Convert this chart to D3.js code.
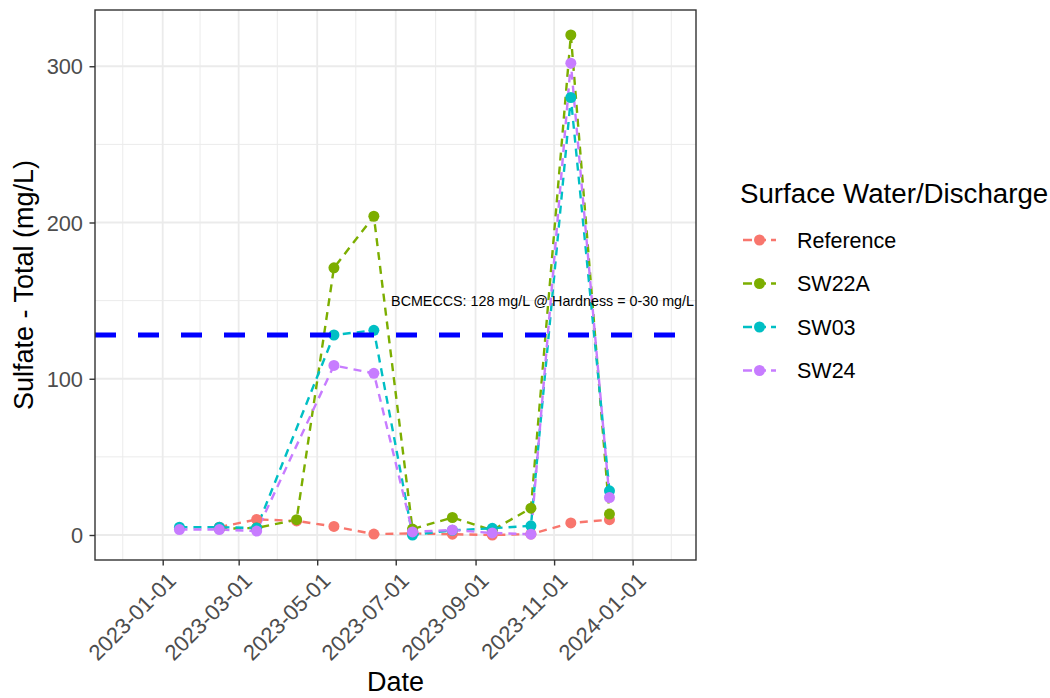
<!DOCTYPE html>
<html>
<head>
<meta charset="utf-8">
<script src="https://cdn.jsdelivr.net/npm/d3@7"></script>
<style>
  html, body { margin: 0; padding: 0; background: #ffffff; }
  svg { display: block; font-family: "Liberation Sans", Arial, sans-serif; }
</style>
</head>
<body>
<svg id="chart" width="1050" height="698"></svg>
<script>
// Sampling dates (one visit per month)
const sampleDates = ["2023-01-14", "2023-02-14", "2023-03-15", "2023-04-15", "2023-05-14", "2023-06-14",
                     "2023-07-14", "2023-08-14", "2023-09-14", "2023-10-14", "2023-11-14", "2023-12-14"];

// Sulfate - Total (mg/L) by station; null = not sampled
const referenceValues = [null, 5, 10, 9, 5.5, 0.6, 1, 0.5, 0, 0.6, 7.7, 9.8];
const sw22aValues     = [null, 4, 4.5, 9.8, 171, 204, 3.8, 11.2, 3, 17.2, 320, 13.4];
const sw03Values      = [5, 5, 4.5, null, 128, 131, 0, 3, 4.3, 5.9, 280, 28.3];
const sw24Values      = [3.5, 3.5, 2.5, null, 108.5, 103.5, 2, 3.2, 1.3, 0.5, 302, 24];

const seriesNames  = ["Reference", "SW22A", "SW03", "SW24"];
const seriesValues = [referenceValues, sw22aValues, sw03Values, sw24Values];
const seriesColors = ["#F8766D", "#7CAE00", "#00BFC4", "#C77CFF"];

// Guideline
const guidelineValue = 128;
const guidelineLabel = "BCMECCS: 128 mg/L @ Hardness = 0-30 mg/L";
const guidelineLabelDate = "2023-10-23";
const guidelineLabelValue = 150;

// Axis ticks
const xTickDates  = ["2023-01-01", "2023-03-01", "2023-05-01", "2023-07-01", "2023-09-01", "2023-11-01", "2024-01-01"];
const xMinorDates = ["2022-12-01", "2023-01-30", "2023-03-31", "2023-05-31", "2023-08-01", "2023-10-01", "2023-12-01", "2024-01-31"];
const yTicks      = [0, 100, 200, 300];
const yMinorTicks = [50, 150, 250];
const xDomain = ["2022-11-09T10:00", "2024-02-19T05:00"];
const yDomain = [-16, 336];

const legendTitle = "Surface Water/Discharge";
const xTitle = "Date";
const yTitle = "Sulfate - Total (mg/L)";

const parse = d3.isoParse;
const svg = d3.select("#chart");
const panel = { left: 95, top: 10, right: 696, bottom: 560 };

const x = d3.scaleTime().domain(xDomain.map(parse)).range([panel.left, panel.right]);
const y = d3.scaleLinear().domain(yDomain).range([panel.bottom, panel.top]);

// Panel background and grid
svg.append("rect")
  .attr("x", panel.left).attr("y", panel.top)
  .attr("width", panel.right - panel.left).attr("height", panel.bottom - panel.top)
  .attr("fill", "#ffffff");

const grid = svg.append("g");
grid.selectAll(".xminor").data(xMinorDates).join("line")
  .attr("x1", d => x(parse(d))).attr("x2", d => x(parse(d)))
  .attr("y1", panel.top).attr("y2", panel.bottom)
  .attr("stroke", "#ebebeb").attr("stroke-width", 1);
grid.selectAll(".yminor").data(yMinorTicks).join("line")
  .attr("x1", panel.left).attr("x2", panel.right)
  .attr("y1", d => y(d)).attr("y2", d => y(d))
  .attr("stroke", "#ebebeb").attr("stroke-width", 1);
grid.selectAll(".xmajor").data(xTickDates).join("line")
  .attr("x1", d => x(parse(d))).attr("x2", d => x(parse(d)))
  .attr("y1", panel.top).attr("y2", panel.bottom)
  .attr("stroke", "#ebebeb").attr("stroke-width", 1.8);
grid.selectAll(".ymajor").data(yTicks).join("line")
  .attr("x1", panel.left).attr("x2", panel.right)
  .attr("y1", d => y(d)).attr("y2", d => y(d))
  .attr("stroke", "#ebebeb").attr("stroke-width", 1.8);

// Series data
const series = seriesNames.map((name, i) => ({
  name,
  color: seriesColors[i],
  points: sampleDates.map((d, j) => ({ date: parse(d), value: seriesValues[i][j] }))
                     .filter(p => p.value != null)
}));

const line = d3.line().x(d => x(d.date)).y(d => y(d.value));

const plot = svg.append("g");
plot.selectAll(".series-line").data(series).join("path")
  .attr("d", d => line(d.points))
  .attr("fill", "none")
  .attr("stroke", d => d.color)
  .attr("stroke-width", 2.4)
  .attr("stroke-dasharray", "8 6");

// Guideline
svg.append("line")
  .attr("x1", panel.left).attr("x2", panel.right)
  .attr("y1", y(guidelineValue)).attr("y2", y(guidelineValue))
  .attr("stroke", "#0000FF").attr("stroke-width", 5)
  .attr("stroke-dasharray", "21 22");

// Points
series.forEach(s => {
  plot.append("g").selectAll("circle").data(s.points).join("circle")
    .attr("cx", d => x(d.date)).attr("cy", d => y(d.value))
    .attr("r", 5.5).attr("fill", s.color);
});

svg.append("text")
  .attr("x", x(parse(guidelineLabelDate))).attr("y", y(guidelineLabelValue))
  .attr("dy", "0.35em").attr("text-anchor", "middle")
  .attr("font-size", 14.3).attr("fill", "#000000")
  .text(guidelineLabel);

// Panel border
svg.append("rect")
  .attr("x", panel.left).attr("y", panel.top)
  .attr("width", panel.right - panel.left).attr("height", panel.bottom - panel.top)
  .attr("fill", "none").attr("stroke", "#333333").attr("stroke-width", 1.4);

// Axes
const xAxis = svg.append("g").attr("transform", `translate(0,${panel.bottom})`)
  .call(d3.axisBottom(x).tickValues(xTickDates.map(parse))
        .tickFormat(d3.timeFormat("%Y-%m-%d")).tickSizeInner(5.5).tickSizeOuter(0));
xAxis.select(".domain").remove();
xAxis.selectAll(".tick line").attr("stroke", "#333333").attr("stroke-width", 1.4);
xAxis.selectAll(".tick text")
  .attr("font-size", 22).attr("fill", "#4d4d4d")
  .attr("text-anchor", "end")
  .attr("x", 0).attr("y", 0).attr("dy", "0.72em")
  .attr("transform", "translate(3,11) rotate(-45)");

const yAxis = svg.append("g").attr("transform", `translate(${panel.left},0)`)
  .call(d3.axisLeft(y).tickValues(yTicks).tickSizeInner(5.5).tickSizeOuter(0));
yAxis.select(".domain").remove();
yAxis.selectAll(".tick line").attr("stroke", "#333333").attr("stroke-width", 1.4);
yAxis.selectAll(".tick text")
  .attr("font-size", 21.8).attr("fill", "#4d4d4d")
  .attr("x", -12).attr("dy", "0.35em");

// Axis titles
svg.append("text")
  .attr("x", (panel.left + panel.right) / 2).attr("y", 691)
  .attr("text-anchor", "middle").attr("font-size", 27).attr("fill", "#000000")
  .text(xTitle);
svg.append("text")
  .attr("transform", `translate(33,${(panel.top + panel.bottom) / 2}) rotate(-90)`)
  .attr("text-anchor", "middle").attr("font-size", 27).attr("fill", "#000000")
  .text(yTitle);

// Legend
const legend = svg.append("g");
legend.append("text")
  .attr("x", 740).attr("y", 203)
  .attr("font-size", 27.7).attr("fill", "#000000")
  .text(legendTitle);
const items = legend.selectAll(".item").data(series).join("g")
  .attr("transform", (d, i) => `translate(0,${240 + i * 43.5})`);
items.append("line")
  .attr("x1", 743).attr("x2", 776).attr("y1", 0).attr("y2", 0)
  .attr("stroke", d => d.color).attr("stroke-width", 2.4)
  .attr("stroke-dasharray", "9 5");
items.append("circle")
  .attr("cx", 759.5).attr("cy", 0).attr("r", 5.5)
  .attr("fill", d => d.color);
items.append("text")
  .attr("x", 797).attr("y", 0).attr("dy", "0.35em")
  .attr("font-size", 21.5).attr("fill", "#000000")
  .text(d => d.name);
</script>
</body>
</html>
